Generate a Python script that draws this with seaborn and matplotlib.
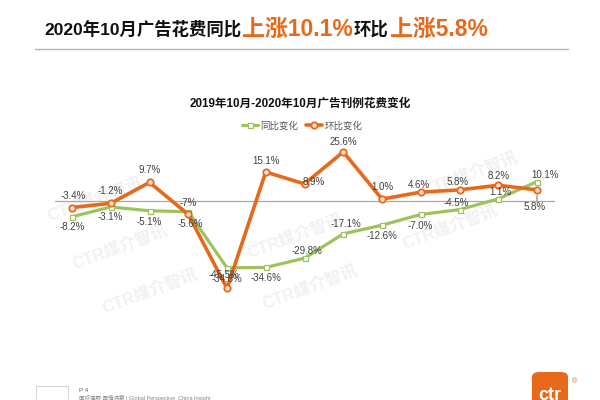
import numpy as np
import pandas as pd
import matplotlib
matplotlib.use("Agg")
import matplotlib.pyplot as plt
import seaborn as sns
from matplotlib.patches import FancyBboxPatch

# 🔹 Data: monthly ad spend change, Oct 2019 - Oct 2020
months = ["2019-10", "2019-11", "2019-12", "2020-01", "2020-02", "2020-03", "2020-04",
          "2020-05", "2020-06", "2020-07", "2020-08", "2020-09", "2020-10"]
yoy = [-8.2, -3.1, -5.1, -5.6, -34.8, -34.6, -29.8, -17.1, -12.6, -7.0, -4.5, 1.1, 10.1]
mom = [-3.4, -1.2, 9.7, -7.0, -45.5, 15.1, 8.9, 25.6, 1.0, 4.6, 5.8, 8.2, 5.8]
yoy_labels = ["-8.2%", "-3.1%", "-5.1%", "-5.6%", "-34.8%", "-34.6%", "-29.8%",
              "-17.1%", "-12.6%", "-7.0%", "-4.5%", "1.1%", "10.1%"]
mom_labels = ["-3.4%", "-1.2%", "9.7%", "-7%", "-45.5%", "15.1%", "8.9%",
              "25.6%", "1.0%", "4.6%", "5.8%", "8.2%", "5.8%"]

df = pd.DataFrame({"idx": np.arange(len(months)), "month": months, "yoy": yoy, "mom": mom})

GREEN = "#9cc45c"
ORANGE = "#e8691c"
TXT = "#404040"

sns.set_theme(style="white")
plt.rcParams["font.family"] = ["Liberation Sans", "Noto Sans CJK SC", "DejaVu Sans"]

fig = plt.figure(figsize=(6, 4), dpi=100)
fig.patch.set_facecolor("white")

# 🔹 Headline with mixed colours/sizes, chained left to right
renderer = fig.canvas.get_renderer()
parts = [("2020年10月广告花费同比", "#111111", 12.5),
         ("上涨10.1%", ORANGE, 16.5),
         ("环比", "#111111", 12.5),
         ("上涨5.8%", ORANGE, 16.5)]
x_px = 44
for s, c, fs in parts:
    t = fig.text(x_px / 600, 1 - 29 / 400, s, color=c, fontsize=fs, fontweight="bold",
                 ha="left", va="center")
    bb = t.get_window_extent(renderer=renderer)
    x_px += bb.width + 1
fig.add_artist(plt.Line2D([35 / 600, 568 / 600], [1 - 49 / 400] * 2, color="#b5b5b5", lw=1.0))

# 🔹 Chart area
ax = fig.add_axes([55 / 600, 1 - 300 / 400, 500 / 600, 160 / 400])
ax.set_xlim(0 - 17 / 38.75, 12 + 18 / 38.75)
ax.set_ylim(-(300 - 201) / 1.92, (201 - 140) / 1.92)
ax.axhline(0, color="#a8a8a8", lw=0.9, zorder=1)

# 🔹 Watermarks (behind the lines)
for wx, wy in [(95, 200), (120, 248), (150, 292), (295, 237), (310, 288), (450, 228), (470, 175)]:
    ax.text(wx / 600, 1 - wy / 400, "CTR媒介智讯", fontsize=12, fontweight="bold",
            color="#f1f1f1", rotation=20, ha="center", va="center", zorder=0,
            transform=fig.transFigure, clip_on=False)

sns.lineplot(data=df, x="idx", y="yoy", ax=ax, color=GREEN, lw=2.3, marker="s",
             markersize=3.6, markerfacecolor="white", markeredgecolor=GREEN,
             markeredgewidth=0.9, label="同比变化", zorder=3)
sns.lineplot(data=df, x="idx", y="mom", ax=ax, color=ORANGE, lw=2.6, marker="o",
             markersize=4.6, markerfacecolor="#fbe3d2", markeredgecolor=ORANGE,
             markeredgewidth=1.3, label="环比变化", zorder=4)

# 🔹 Value labels (offsets in pixels)
yoy_off = [(0, -10), (0, -10), (0, -11), (2, -12), (0, -11), (0, -11), (2, 7),
           (3, 10), (0, -11), (0, -12), (-3, 7), (2, 7), (8, 7)]
mom_off = [(1, 12), (0, 12), (0, 12), (0, 11), (-3, 13), (0, 11), (9, 2),
           (0, 10), (0, 12), (-2, 7), (-2, 8), (0, 9), (-2, -17)]
px2pt = 72 / 100
for i, (v, lab) in enumerate(zip(df["yoy"], yoy_labels)):
    dx, dy = yoy_off[i]
    ax.annotate(lab, (i, v), xytext=(dx * px2pt, dy * px2pt), textcoords="offset points",
                ha="center", va="center", fontsize=7, color=TXT, zorder=6)
for i, (v, lab) in enumerate(zip(df["mom"], mom_labels)):
    dx, dy = mom_off[i]
    ax.annotate(lab, (i, v), xytext=(dx * px2pt, dy * px2pt), textcoords="offset points",
                ha="center", va="center", fontsize=7, color=TXT, zorder=6)
# small leader line for last MoM label
ax.annotate("", (12, df["mom"].iloc[-1]), xytext=(0, -11 * px2pt), textcoords="offset points",
            arrowprops=dict(arrowstyle="-", color="#555555", lw=0.6, shrinkA=0, shrinkB=4))

ax.axis("off")
ax.get_legend().remove()

# 🔹 Chart title and legend
fig.text(300 / 600, 1 - 104 / 400, "2019年10月-2020年10月广告刊例花费变化", fontsize=8.4,
         fontweight="bold", color="#111111", ha="center", va="center")
handles, labels = ax.get_legend_handles_labels()
fig.legend(handles, labels, loc="center", bbox_to_anchor=(302 / 600, 1 - 126 / 400), ncol=2,
           frameon=False, fontsize=6.8, handlelength=1.7, handletextpad=0.2,
           columnspacing=0.9, labelcolor="#555555")

# 🔹 Footer
fig.patches.append(FancyBboxPatch((532 / 600, -0.02), 36 / 600, 36 / 400,
                                  boxstyle="round,pad=0,rounding_size=0.012",
                                  transform=fig.transFigure, facecolor=ORANGE, edgecolor="none"))
fig.text(550 / 600, 1 - 396 / 400, "ctr", fontsize=13, fontweight="bold", color="white",
         ha="center", va="center")
fig.text(575 / 600, 1 - 382 / 400, "®", fontsize=5, color=ORANGE, ha="center", va="center")
fig.text(79 / 600, 1 - 391 / 400, "P 4", fontsize=4.5, color="#666666", ha="left", va="center")
fig.text(79 / 600, 1 - 398 / 400, "国际视野 国情洞察 | Global Perspective  China Insight",
         fontsize=4, color="#888888", ha="left", va="center")
fig.patches.append(FancyBboxPatch((36 / 600, 1 - 400 / 400), 32 / 600, 14 / 400,
                                  boxstyle="square,pad=0", transform=fig.transFigure,
                                  facecolor="white", edgecolor="#cccccc", lw=0.6))

fig.savefig("out.png", dpi=100)
